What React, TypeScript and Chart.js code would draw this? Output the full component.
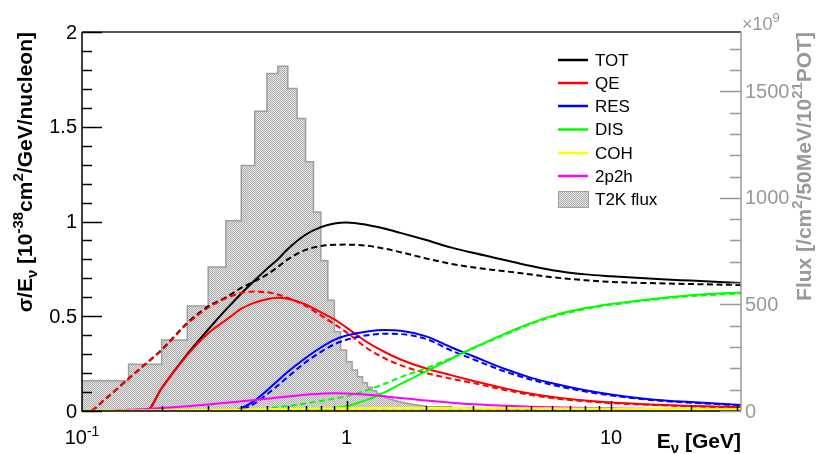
import React, { useEffect, useRef } from 'react';
import { Chart, registerables } from 'chart.js';

Chart.register(...registerables);

// ---- data ----
const energies = [0.1, 0.106, 0.123, 0.15, 0.175, 0.2, 0.25, 0.3, 0.35, 0.37, 0.4, 0.45, 0.5, 0.55, 0.6, 0.7, 0.8, 0.9, 1.0, 1.2, 1.4, 1.6, 2.0, 2.5, 3, 4, 5, 6, 8, 10, 15, 20, 31];

const totSolid = [0, 0, 0, 0, 0, 0.12, 0.3, 0.43, 0.535, 0.57, 0.62, 0.69, 0.75, 0.8, 0.855, 0.93, 0.97, 0.99, 0.995, 0.982, 0.962, 0.94, 0.902, 0.862, 0.835, 0.796, 0.765, 0.743, 0.721, 0.711, 0.696, 0.688, 0.676];
const totDashed = [0, 0, 0.066, 0.171, 0.252, 0.323, 0.465, 0.552, 0.6, 0.62, 0.65, 0.685, 0.72, 0.76, 0.8, 0.85, 0.87, 0.877, 0.878, 0.872, 0.856, 0.838, 0.805, 0.776, 0.758, 0.737, 0.72, 0.706, 0.69, 0.681, 0.674, 0.67, 0.665];
const qeSolid = [0, 0, 0, 0, 0, 0.12, 0.295, 0.41, 0.48, 0.505, 0.54, 0.572, 0.59, 0.598, 0.592, 0.563, 0.52, 0.483, 0.44, 0.362, 0.31, 0.272, 0.224, 0.188, 0.16, 0.118, 0.091, 0.074, 0.055, 0.045, 0.033, 0.027, 0.02];
const qeDashed = [0, 0, 0.065, 0.17, 0.25, 0.32, 0.46, 0.545, 0.595, 0.608, 0.623, 0.63, 0.627, 0.615, 0.597, 0.555, 0.505, 0.458, 0.415, 0.33, 0.277, 0.242, 0.2, 0.17, 0.148, 0.11, 0.084, 0.068, 0.051, 0.042, 0.031, 0.025, 0.018];
const resSolid = [0, 0, 0, 0, 0, 0, 0, 0, 0, 0, 0.015, 0.055, 0.108, 0.16, 0.207, 0.28, 0.335, 0.375, 0.398, 0.42, 0.427, 0.424, 0.394, 0.335, 0.29, 0.22, 0.175, 0.146, 0.109, 0.087, 0.058, 0.047, 0.032];
const resDashed = [0, 0, 0, 0, 0, 0, 0, 0, 0, 0, 0.008, 0.04, 0.088, 0.135, 0.18, 0.257, 0.312, 0.352, 0.376, 0.4, 0.408, 0.406, 0.38, 0.318, 0.274, 0.207, 0.165, 0.138, 0.103, 0.082, 0.055, 0.044, 0.03];
const disSolid = [0, 0, 0, 0, 0, 0, 0, 0, 0, 0, 0, 0, 0, 0.001, 0.002, 0.005, 0.01, 0.016, 0.025, 0.06, 0.1, 0.142, 0.209, 0.277, 0.331, 0.41, 0.465, 0.502, 0.543, 0.565, 0.594, 0.611, 0.625];
const disDashed = [0, 0, 0, 0, 0, 0, 0, 0, 0, 0, 0, 0.006, 0.012, 0.02, 0.027, 0.04, 0.053, 0.066, 0.078, 0.11, 0.145, 0.178, 0.226, 0.28, 0.33, 0.404, 0.46, 0.497, 0.538, 0.56, 0.59, 0.606, 0.62];
const cohSolid = [0, 0, 0.001, 0.002, 0.003, 0.004, 0.005, 0.006, 0.007, 0.007, 0.008, 0.009, 0.01, 0.011, 0.011, 0.012, 0.013, 0.014, 0.015, 0.015, 0.016, 0.016, 0.016, 0.016, 0.015, 0.015, 0.014, 0.014, 0.013, 0.012, 0.011, 0.011, 0.01];
const cohDashed = [0, 0.001, 0.001, 0.001, 0.002, 0.002, 0.002, 0.002, 0.003, 0.003, 0.003, 0.003, 0.003, 0.003, 0.004, 0.004, 0.004, 0.004, 0.004, 0.004, 0.004, 0.004, 0.004, 0.004, 0.004, 0.004, 0.004, 0.004, 0.003, 0.003, 0.003, 0.003, 0.003];
const mecSolid = [0, 0, 0, 0.006, 0.011, 0.016, 0.025, 0.034, 0.043, 0.046, 0.051, 0.058, 0.065, 0.071, 0.077, 0.086, 0.091, 0.094, 0.093, 0.086, 0.077, 0.068, 0.056, 0.044, 0.036, 0.028, 0.023, 0.02, 0.016, 0.014, 0.011, 0.01, 0.009];

// T2K flux histogram (x10^9 /cm2/50MeV/1e21 POT), left bin edges + values
const fluxEdges = [0.1, 0.15, 0.2, 0.25, 0.3, 0.35, 0.4, 0.45, 0.5, 0.55, 0.6, 0.65, 0.7, 0.75, 0.8, 0.85, 0.9, 0.95, 1.0, 1.05, 1.1, 1.15, 1.2, 1.25, 1.3, 1.35, 1.4, 1.45, 1.5, 1.55, 1.6, 1.65, 1.7, 1.75, 1.8, 1.85, 1.9, 1.95, 2.0, 2.5, 3.0, 4.0, 5.0, 7.0];
const fluxValues = [142, 219, 333, 492, 676, 892, 1152, 1406, 1583, 1617, 1513, 1372, 1169, 934, 705, 520, 372, 286, 231, 192, 161, 133, 111, 95, 82, 71, 62, 55, 49, 44, 40, 37, 34, 31, 29, 27, 25, 23, 20, 15, 10, 6, 4, 2];
const fluxEnd = 10;

// axes
const xMin = 0.1;
const xMax = 31;
const yMax = 2;
const y2Max = 1778;
const leftTicks = [0, 0.5, 1, 1.5, 2];
const leftTickLabels = ['0', '0.5', '1', '1.5', '2'];
const rightTicks = [0, 500, 1000, 1500];
const rightTickLabels = ['0', '500', '1000', '1500'];
const xMajorTicks = [1, 10];
const xMajorLabels = ['1', '10'];
const xMinorTicks = [0.2, 0.3, 0.4, 0.5, 0.6, 0.7, 0.8, 0.9, 2, 3, 4, 5, 6, 7, 8, 9, 20, 30];

const legendLabels = ['TOT', 'QE', 'RES', 'DIS', 'COH', '2p2h', 'T2K flux'];
const legendColors = ['#000000', '#ff0000', '#0000ff', '#00ff00', '#ffff00', '#ff00ff', ''];

const FONT = '"Liberation Sans", Arial, Helvetica, sans-serif';
const GRAY = '#999999';

type Part = [string, number]; // 0 normal, 1 sup, -1 sub

function drawRich(ctx: CanvasRenderingContext2D, parts: Part[], x: number, y: number, size: number, bold: boolean, align: 'left' | 'right' | 'center') {
  const b = bold ? 'bold ' : '';
  const fontFor = (m: number) => (m === 0 ? `${b}${size}px ${FONT}` : `${b}${Math.round(size * 0.7)}px ${FONT}`);
  const widths = parts.map(([t, m]) => {
    ctx.font = fontFor(m);
    return ctx.measureText(t).width;
  });
  const total = widths.reduce((a, c) => a + c, 0);
  let cx = align === 'right' ? x - total : align === 'center' ? x - total / 2 : x;
  ctx.textAlign = 'left';
  ctx.textBaseline = 'alphabetic';
  parts.forEach(([t, m], i) => {
    ctx.font = fontFor(m);
    const dy = m === 1 ? -size * 0.42 : m === -1 ? size * 0.22 : 0;
    ctx.fillText(t, cx, y + dy);
    cx += widths[i];
  });
}

function makePattern(ctx: CanvasRenderingContext2D) {
  const pc = document.createElement('canvas');
  pc.width = 2;
  pc.height = 2;
  const p = pc.getContext('2d')!;
  p.fillStyle = '#e2e2e2';
  p.fillRect(0, 0, 2, 2);
  p.fillStyle = '#b0b0b0';
  p.fillRect(0, 0, 1, 1);
  p.fillRect(1, 1, 1, 1);
  return ctx.createPattern(pc, 'repeat')!;
}

export default function App() {
  const ref = useRef<HTMLCanvasElement>(null);

  useEffect(() => {
    const canvas = ref.current!;
    const ctx0 = canvas.getContext('2d')!;
    const pattern = makePattern(ctx0);

    const pts = (vals: number[]) => energies.map((e, i) => ({ x: e, y: vals[i] }));
    const line = (label: string, vals: number[], color: string, dashed: boolean) => ({
      type: 'line' as const,
      label,
      data: pts(vals),
      borderColor: color,
      borderWidth: 2,
      borderDash: dashed ? [6, 3.5] : [],
      pointRadius: 0,
      fill: false,
      cubicInterpolationMode: 'monotone' as const,
      xAxisID: 'x',
      yAxisID: 'y',
    });

    const histData = [
      { x: fluxEdges[0], y: 0 },
      ...fluxEdges.map((e, i) => ({ x: e, y: fluxValues[i] })),
      { x: fluxEnd, y: 0 },
    ];

    const axesPlugin = {
      id: 'rootAxes',
      afterDraw(chart: any) {
        const { ctx, chartArea: a, scales } = chart;
        const sx = scales.x, sy = scales.y, sy2 = scales.y2;
        ctx.save();
        ctx.lineCap = 'butt';
        // frame
        ctx.lineWidth = 1.5;
        ctx.strokeStyle = '#222222';
        ctx.beginPath();
        ctx.moveTo(a.left, a.top);
        ctx.lineTo(a.right, a.top);
        ctx.stroke();
        ctx.strokeStyle = '#000000';
        ctx.beginPath();
        ctx.moveTo(a.left, a.top);
        ctx.lineTo(a.left, a.bottom);
        ctx.lineTo(a.right, a.bottom);
        ctx.stroke();

        // left ticks
        ctx.lineWidth = 1.5;
        for (let k = 0; k <= 20; k++) {
          const v = k / 10;
          const py = Math.round(sy.getPixelForValue(v)) + 0.5;
          const len = k % 5 === 0 ? 20 : 10;
          ctx.beginPath();
          ctx.moveTo(a.left, py);
          ctx.lineTo(a.left + len, py);
          ctx.stroke();
        }
        ctx.fillStyle = '#000000';
        ctx.font = `20px ${FONT}`;
        ctx.textAlign = 'right';
        ctx.textBaseline = 'middle';
        leftTicks.forEach((v, i) => {
          ctx.fillText(leftTickLabels[i], a.left - 5, sy.getPixelForValue(v) + 1);
        });

        // x ticks
        const xtick = (v: number, len: number) => {
          const px = Math.round(sx.getPixelForValue(v)) + 0.5;
          ctx.beginPath();
          ctx.moveTo(px, a.bottom);
          ctx.lineTo(px, a.bottom - len);
          ctx.stroke();
        };
        xMajorTicks.forEach((v) => xtick(v, 10));
        xMinorTicks.forEach((v) => xtick(v, 5));
        ctx.textAlign = 'center';
        ctx.textBaseline = 'alphabetic';
        ctx.font = `20px ${FONT}`;
        xMajorTicks.forEach((v, i) => {
          ctx.fillText(xMajorLabels[i], sx.getPixelForValue(v), 444);
        });
        drawRich(ctx, [['10', 0], ['-1', 1]], sx.getPixelForValue(xMin), 444, 20, false, 'center');

        // right axis
        ctx.strokeStyle = GRAY;
        ctx.fillStyle = GRAY;
        ctx.lineWidth = 1.5;
        ctx.beginPath();
        ctx.moveTo(a.right, a.top);
        ctx.lineTo(a.right, a.bottom);
        ctx.stroke();
        for (let k = 0; k <= 17; k++) {
          const v = k * 100;
          const py = Math.round(sy2.getPixelForValue(v)) + 0.5;
          const len = k % 5 === 0 ? 21 : 11;
          ctx.beginPath();
          ctx.moveTo(a.right, py);
          ctx.lineTo(a.right - len, py);
          ctx.stroke();
        }
        ctx.font = `20px ${FONT}`;
        ctx.textAlign = 'left';
        ctx.textBaseline = 'middle';
        rightTicks.forEach((v, i) => {
          ctx.fillText(rightTickLabels[i], a.right + 4, sy2.getPixelForValue(v) + 1);
        });
        drawRich(ctx, [['\u00d710', 0], ['9', 1]], a.right + 1, 30, 18, false, 'left');

        // right title
        ctx.save();
        ctx.translate(811, a.top);
        ctx.rotate(-Math.PI / 2);
        drawRich(ctx, [['Flux [/cm', 0], ['2', 1], ['/50MeV/10', 0], ['21', 1], ['POT]', 0]], 0, 0, 21, true, 'right');
        ctx.restore();

        // left title
        ctx.fillStyle = '#000000';
        ctx.save();
        ctx.translate(32, a.top);
        ctx.rotate(-Math.PI / 2);
        drawRich(ctx, [['\u03c3/E', 0], ['\u03bd', -1], [' [10', 0], ['-38', 1], ['cm', 0], ['2', 1], ['/GeV/nucleon]', 0]], 0, 0, 21, true, 'right');
        ctx.restore();

        // x title
        drawRich(ctx, [['E', 0], ['\u03bd', -1], [' [GeV]', 0]], a.right, 448, 21, true, 'right');

        // legend
        const rows = [60, 83, 106, 129.5, 153, 176, 199];
        legendLabels.forEach((lab, i) => {
          const yy = rows[i];
          if (legendColors[i]) {
            ctx.strokeStyle = legendColors[i];
            ctx.lineWidth = 2.5;
            ctx.beginPath();
            ctx.moveTo(558, yy);
            ctx.lineTo(588, yy);
            ctx.stroke();
          } else {
            ctx.fillStyle = pattern;
            ctx.fillRect(558, yy - 8, 30, 16);
            ctx.strokeStyle = '#a0a0a0';
            ctx.lineWidth = 1;
            ctx.strokeRect(558.5, yy - 7.5, 30, 16);
          }
          ctx.fillStyle = '#000000';
          ctx.font = `17px ${FONT}`;
          ctx.textAlign = 'left';
          ctx.textBaseline = 'middle';
          ctx.fillText(lab, 595, yy + 1);
        });
        ctx.restore();
      },
    };

    const chart = new Chart(canvas, {
      type: 'line',
      data: {
        datasets: [
          line('COH', cohSolid, '#ffff00', false),
          line('COH dashed', cohDashed, '#ffff00', true),
          line('2p2h', mecSolid, '#ff00ff', false),
          line('DIS dashed', disDashed, '#00ff00', true),
          line('DIS', disSolid, '#00ff00', false),
          line('RES dashed', resDashed, '#0000ff', true),
          line('RES', resSolid, '#0000ff', false),
          line('QE dashed', qeDashed, '#ff0000', true),
          line('QE', qeSolid, '#ff0000', false),
          line('TOT dashed', totDashed, '#000000', true),
          line('TOT', totSolid, '#000000', false),
          {
            type: 'line' as const,
            label: 'T2K flux',
            data: histData,
            stepped: true,
            borderColor: '#a0a0a0',
            borderWidth: 1.5,
            backgroundColor: pattern,
            fill: 'origin',
            pointRadius: 0,
            xAxisID: 'x',
            yAxisID: 'y2',
          } as any,
        ],
      },
      options: {
        animation: false,
        responsive: false,
        events: [],
        layout: { padding: { left: 82, right: 81, top: 32, bottom: 43 } },
        plugins: { legend: { display: false }, tooltip: { enabled: false } },
        scales: {
          x: { type: 'logarithmic', min: xMin, max: xMax, display: false },
          y: { type: 'linear', min: 0, max: yMax, display: false },
          y2: { type: 'linear', min: 0, max: y2Max, display: false, position: 'right' },
        },
      },
      plugins: [axesPlugin],
    } as any);

    return () => chart.destroy();
  }, []);

  return (
    <div style={{ position: 'absolute', left: 0, top: 0, width: 822, height: 454, background: '#ffffff' }}>
      <canvas ref={ref} width={822} height={454} />
    </div>
  );
}
